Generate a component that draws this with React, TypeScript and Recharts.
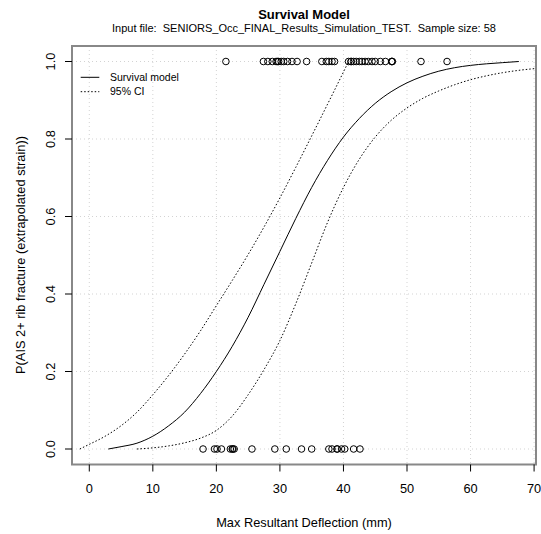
import React from 'react';
import { ComposedChart, Line, Scatter, XAxis, YAxis, CartesianGrid, ReferenceArea } from 'recharts';

// ---- data ----
const X_TICKS = [0, 10, 20, 30, 40, 50, 60, 70];
const Y_TICKS = [0, 0.2, 0.4, 0.6, 0.8, 1.0];

const fitX = [3, 5, 7.5, 10, 12.5, 15, 17.5, 20, 22.5, 25, 27.5, 30, 32.5, 35, 37.5, 40, 42.5, 45, 47.5, 50, 52.5, 55, 57.5, 60, 62.5, 65, 67.6];
const fitP = [0.0, 0.006, 0.015, 0.033, 0.06, 0.095, 0.143, 0.2, 0.265, 0.34, 0.425, 0.51, 0.595, 0.675, 0.745, 0.805, 0.853, 0.892, 0.922, 0.945, 0.962, 0.975, 0.984, 0.99, 0.994, 0.997, 1.0];

const upX = [-1.5, 0, 2.5, 5, 7.5, 10, 12.5, 15, 17.5, 20, 22.5, 25, 27.5, 30, 32.5, 35, 37.5, 40, 40.8];
const upP = [0.0, 0.012, 0.033, 0.06, 0.095, 0.14, 0.19, 0.245, 0.305, 0.37, 0.435, 0.502, 0.573, 0.648, 0.727, 0.808, 0.89, 0.973, 1.0];

const loX = [7.5, 10, 12.5, 15, 17.5, 20, 22.5, 25, 27.5, 30, 32.5, 35, 37.5, 40, 42.5, 45, 47.5, 50, 52.5, 55, 57.5, 60, 62.5, 65, 67.5, 70.3];
const loP = [0.0, 0.003, 0.008, 0.016, 0.028, 0.048, 0.085, 0.14, 0.205, 0.28, 0.375, 0.48, 0.585, 0.675, 0.748, 0.805, 0.848, 0.88, 0.905, 0.924, 0.94, 0.953, 0.963, 0.971, 0.977, 0.982];

const injuredX = [21.5, 27.4, 28.1, 28.8, 29.4, 29.6, 29.8, 30.2, 30.6, 31.2, 31.9, 32.7, 34.2, 36.6, 37.3, 37.7, 38.2, 38.6, 40.8, 41.2, 41.2, 41.6, 42.0, 42.5, 42.9, 43.4, 43.9, 44.5, 45.0, 45.8, 46.6, 47.6, 47.6, 47.7, 52.2, 56.3];
const uninjuredX = [17.9, 19.7, 20.1, 20.8, 22.2, 22.5, 22.6, 22.8, 25.6, 29.2, 31.0, 33.4, 35.0, 37.7, 38.2, 39.0, 39.0, 39.7, 40.2, 41.6, 42.6];

const X_DOMAIN: [number, number] = [-2.72, 70.3];
const Y_DOMAIN: [number, number] = [-0.04, 1.04];

const zip = (xs: number[], ys: number[]) => xs.map((x, i) => ({ x, y: ys[i] }));
const fitData = zip(fitX, fitP);
const upData = zip(upX, upP);
const loData = zip(loX, loP);
const pointData = [
  ...injuredX.map((x) => ({ x, y: 1 })),
  ...uninjuredX.map((x) => ({ x, y: 0 })),
];

const W = 541;
const H = 534;
const FONT = '"Liberation Sans", Arial, sans-serif';

const XTick = (props: any) => (
  <text x={props.x} y={props.y + 19.8} textAnchor="middle" fontSize={12.8} fill="#000" fontFamily={FONT}>
    {props.payload.value}
  </text>
);

const YTick = (props: any) => (
  <text
    x={0}
    y={0}
    transform={`translate(${props.x - 8.5}, ${props.y}) rotate(-90)`}
    textAnchor="middle"
    fontSize={12.8}
    fill="#000"
    fontFamily={FONT}
  >
    {Number(props.payload.value).toFixed(1)}
  </text>
);

const Circle = (props: any) => (
  <circle cx={props.cx} cy={props.cy} r={3.3} fill="none" stroke="#000" strokeWidth={1} />
);

export default function App() {
  return (
    <div style={{ position: 'absolute', left: 0, top: 0, width: W, height: H, background: '#fff' }}>
      <ComposedChart width={W} height={H} margin={{ top: 46, right: 5, bottom: 39.5, left: 42 }}>
        <CartesianGrid stroke="#d3d3d3" strokeDasharray="1 3" />
        <XAxis
          type="number"
          dataKey="x"
          domain={X_DOMAIN}
          ticks={X_TICKS}
          allowDataOverflow
          interval={0}
          height={30}
          tickSize={7}
          axisLine={false}
          tickLine={{ stroke: '#000' }}
          tick={XTick}
        />
        <YAxis
          type="number"
          dataKey="y"
          domain={Y_DOMAIN}
          ticks={Y_TICKS}
          allowDataOverflow
          interval={0}
          width={30}
          tickSize={7}
          axisLine={false}
          tickLine={{ stroke: '#000' }}
          tick={YTick}
        />
        <ReferenceArea
          x1={X_DOMAIN[0]}
          x2={X_DOMAIN[1]}
          y1={Y_DOMAIN[0]}
          y2={Y_DOMAIN[1]}
          fill="none"
          stroke="#888"
          strokeWidth={2}
          ifOverflow="visible"
        />
        <Line data={upData} dataKey="y" type="monotone" stroke="#000" strokeWidth={1} strokeDasharray="1.5 2" dot={false} activeDot={false} isAnimationActive={false} />
        <Line data={loData} dataKey="y" type="monotone" stroke="#000" strokeWidth={1} strokeDasharray="1.5 2" dot={false} activeDot={false} isAnimationActive={false} />
        <Line data={fitData} dataKey="y" type="monotone" stroke="#000" strokeWidth={1} dot={false} activeDot={false} isAnimationActive={false} />
        <Scatter data={pointData} dataKey="y" shape={Circle} isAnimationActive={false} />
      </ComposedChart>
      <svg width={W} height={H} style={{ position: 'absolute', left: 0, top: 0, pointerEvents: 'none' }} fontFamily={FONT}>
        <text x={304} y={19} textAnchor="middle" fontSize={13} fontWeight="bold" fill="#000">Survival Model</text>
        <text x={304} y={31.5} textAnchor="middle" fontSize={11} fill="#000" style={{ whiteSpace: 'pre' }}>
          {'Input file:  SENIORS_Occ_FINAL_Results_Simulation_TEST.  Sample size: 58'}
        </text>
        <text x={304} y={526.5} textAnchor="middle" fontSize={12.8} fill="#000">Max Resultant Deflection (mm)</text>
        <text x={0} y={0} transform="translate(24.5, 255) rotate(-90)" textAnchor="middle" fontSize={12.8} fill="#000">
          P(AIS 2+ rib fracture (extrapolated strain))
        </text>
        <line x1={80.7} x2={99.3} y1={77.3} y2={77.3} stroke="#000" strokeWidth={1} />
        <text x={110} y={81} fontSize={10.5} fill="#000">Survival model</text>
        <line x1={80.7} x2={99.3} y1={91.7} y2={91.7} stroke="#000" strokeWidth={1} strokeDasharray="1.5 2" />
        <text x={110} y={95.4} fontSize={10.5} fill="#000">95% CI</text>
      </svg>
    </div>
  );
}
